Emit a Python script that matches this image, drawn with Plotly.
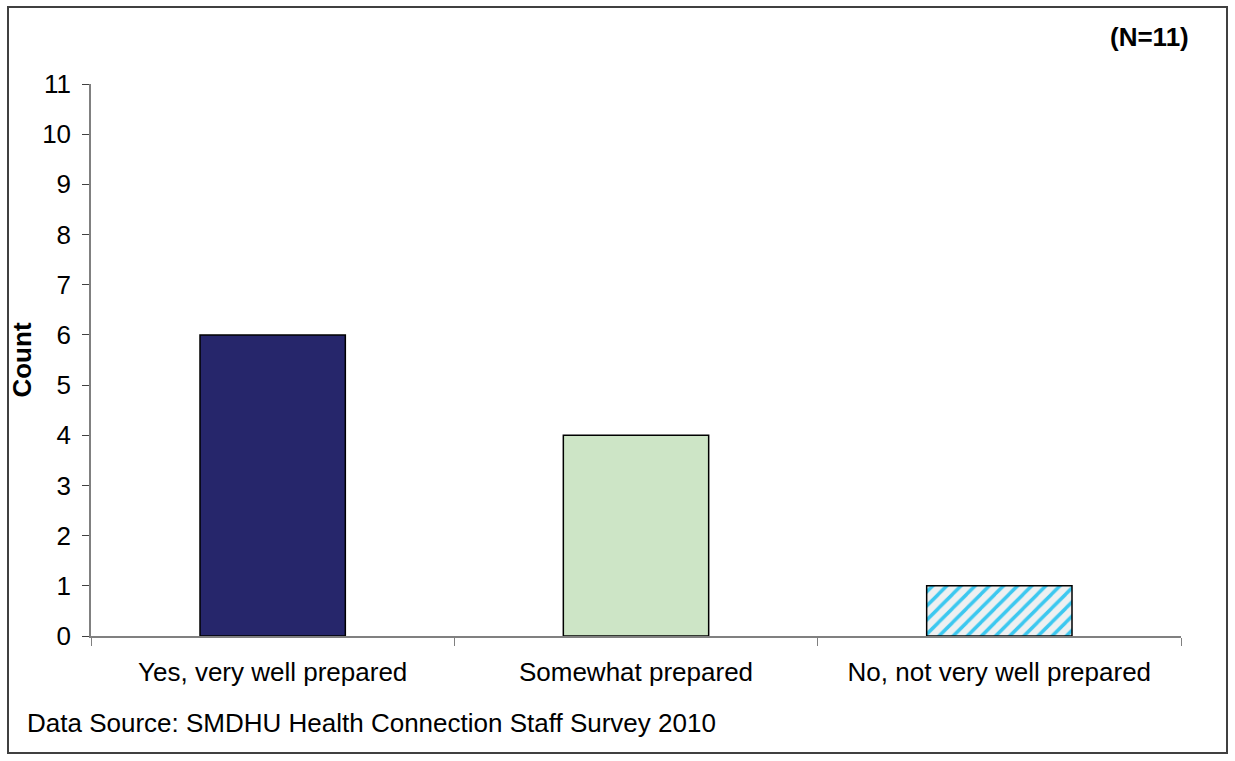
import plotly.graph_objects as go

categories = ["Yes, very well prepared", "Somewhat prepared", "No, not very well prepared"]
counts = [6, 4, 1]
solid_colors = ["#26266B", "#CDE5C6"]
stripe_fg = "#3CC8F0"
stripe_bg = "#EEF0F1"
y_ticks = list(range(0, 12))

W, H = 1235, 761
L, R, T, B = 91, 54, 84, 125
pw, ph = W - L - R, H - T - B

def px_x(x):
    return (x - L) / pw

def px_y(y):
    return (H - B - y) / ph

fig = go.Figure()

# solid-filled bars
fig.add_trace(go.Bar(
    x=categories[:2],
    y=counts[:2],
    width=0.4,
    marker=dict(color=solid_colors, line=dict(color="black", width=1.5)),
))

# hatched bar
fig.add_trace(go.Bar(
    x=categories[2:],
    y=counts[2:],
    width=0.4,
    marker=dict(
        color=stripe_bg,
        line=dict(color="black", width=1.5),
        pattern=dict(shape="/", fgcolor=stripe_fg, bgcolor=stripe_bg,
                     fillmode="overlay", fgopacity=1, size=10, solidity=0.35),
    ),
))

fig.update_layout(
    width=W,
    height=H,
    margin=dict(l=L, r=R, t=T, b=B),
    paper_bgcolor="white",
    plot_bgcolor="white",
    font=dict(family="Liberation Sans, Arial, sans-serif", color="black", size=26),
    showlegend=False,
    barmode="overlay",
)

fig.update_xaxes(
    categoryorder="array",
    categoryarray=categories,
    showline=True,
    linecolor="#808080",
    linewidth=2,
    ticks="outside",
    tickson="boundaries",
    ticklen=8,
    tickcolor="#808080",
    tickfont=dict(size=26),
    ticklabelstandoff=12,
    showgrid=False,
    zeroline=False,
)

fig.update_yaxes(
    range=[0, 11],
    tickvals=y_ticks,
    showline=True,
    linecolor="#808080",
    linewidth=1.5,
    ticks="outside",
    ticklen=7,
    tickcolor="#404040",
    tickfont=dict(size=26),
    ticklabelstandoff=6,
    showgrid=False,
    zeroline=False,
    title=dict(text="<b>Count</b>", font=dict(size=26), standoff=3),
)

# outer frame around the whole chart
fig.add_shape(
    type="rect", xref="paper", yref="paper",
    x0=px_x(8), x1=px_x(1227), y0=px_y(753), y1=px_y(7),
    line=dict(color="#404040", width=2), fillcolor="rgba(0,0,0,0)",
)

fig.add_annotation(
    text="<b>(N=11)</b>", xref="paper", yref="paper",
    x=px_x(1191), y=px_y(37), xanchor="right", yanchor="middle",
    showarrow=False, font=dict(size=26),
)

fig.add_annotation(
    text="Data Source: SMDHU Health Connection Staff Survey 2010",
    xref="paper", yref="paper",
    x=px_x(25), y=px_y(723), xanchor="left", yanchor="middle",
    showarrow=False, font=dict(size=26),
)

fig.write_html("out.html")
